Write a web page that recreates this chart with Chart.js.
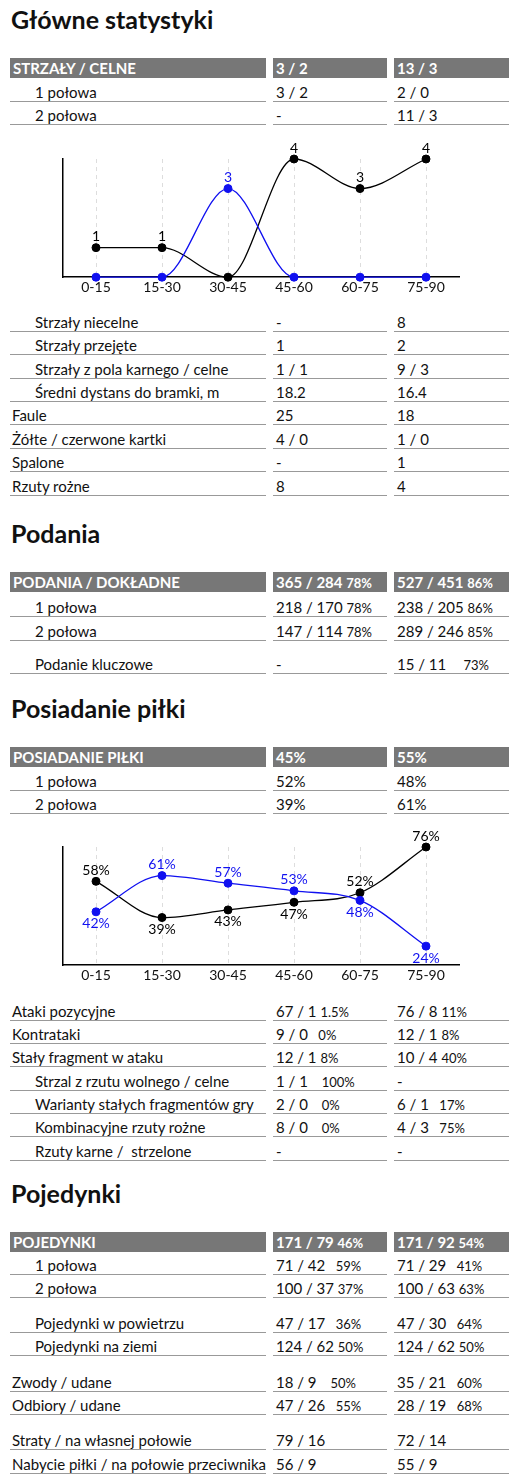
<!DOCTYPE html>
<html><head><meta charset="utf-8">
<script src="https://cdn.jsdelivr.net/npm/chart.js@4"></script>
<style>
body{margin:0;background:#fff;font-family:Lato,"Open Sans",sans-serif;color:#111;}
#page{position:relative;width:526px;height:1482px;}
h2{position:absolute;left:11px;margin:0;font-size:25px;font-weight:bold;}
.cell{position:absolute;height:20px;line-height:20px;font-size:15px;border-bottom:1px solid #999;white-space:nowrap;box-sizing:border-box;overflow:hidden;}
.hd{background:#777;color:#fff;font-weight:bold;border-bottom:none;padding-left:3px;}
.sm{font-size:13px;}
.chartbox{position:absolute;left:0;width:526px;}
</style></head><body>
<div id="page">
<h2 style="top:4px">Główne statystyki</h2>
<h2 style="top:518px">Podania</h2>
<h2 style="top:693px">Posiadanie piłki</h2>
<h2 style="top:1178px">Pojedynki</h2>
<div class="chartbox" style="top:140px;height:158px"><canvas id="shotsChart"></canvas></div>
<div class="chartbox" style="top:830px;height:156px"><canvas id="possChart"></canvas></div>
</div>
<script>
const periods = ["0-15", "15-30", "30-45", "45-60", "60-75", "75-90"];
const shotsHome = [0, 0, 3, 0, 0, 0];
const shotsAway = [1, 1, 0, 4, 3, 4];
const possHome = [42, 61, 57, 53, 48, 24];
const possAway = [58, 39, 43, 47, 52, 76];

// [center y, indent, label, col2, col2 small, col3, col3 small, header]
const rows = [
    [68, 0, "STRZAŁY / CELNE", "3 / 2", "", "13 / 3", "", true],
    [92, 1, "1 połowa", "3 / 2", "", "2 / 0", ""],
    [115, 1, "2 połowa", "-", "", "11 / 3", ""],
    [322, 1, "Strzały niecelne", "-", "", "8", ""],
    [345, 1, "Strzały przejęte", "1", "", "2", ""],
    [369, 1, "Strzały z pola karnego / celne", "1 / 1", "", "9 / 3", ""],
    [392, 1, "Średni dystans do bramki, m", "18.2", "", "16.4", ""],
    [415, 0, "Faule", "25", "", "18", ""],
    [439, 0, "Żółte / czerwone kartki", "4 / 0", "", "1 / 0", ""],
    [462, 0, "Spalone", "-", "", "1", ""],
    [486, 0, "Rzuty rożne", "8", "", "4", ""],
    [582, 0, "PODANIA / DOKŁADNE", "365 / 284", "78%", "527 / 451", "86%", true],
    [607, 1, "1 połowa", "218 / 170", "78%", "238 / 205", "86%"],
    [631, 1, "2 połowa", "147 / 114", "78%", "289 / 246", "85%"],
    [664, 1, "Podanie kluczowe", "-", "", "15 / 11", "&nbsp;&nbsp;&nbsp;&nbsp;73%"],
    [757, 0, "POSIADANIE PIŁKI", "45%", "", "55%", "", true],
    [781, 1, "1 połowa", "52%", "", "48%", ""],
    [804, 1, "2 połowa", "39%", "", "61%", ""],
    [1011, 0, "Ataki pozycyjne", "67 / 1", "1.5%", "76 / 8", "11%"],
    [1034, 0, "Kontrataki", "9 / 0", "&nbsp;&nbsp;0%", "12 / 1", "8%"],
    [1057, 0, "Stały fragment w ataku", "12 / 1", "8%", "10 / 4", "40%"],
    [1081, 1, "Strzal z rzutu wolnego / celne", "1 / 1", "&nbsp;&nbsp;&nbsp;100%", "-", ""],
    [1104, 1, "Warianty stałych fragmentów gry", "2 / 0", "&nbsp;&nbsp;&nbsp;0%", "6 / 1", "&nbsp;&nbsp;17%"],
    [1127, 1, "Kombinacyjne rzuty rożne", "8 / 0", "&nbsp;&nbsp;&nbsp;0%", "4 / 3", "&nbsp;&nbsp;75%"],
    [1151, 1, "Rzuty karne /&nbsp;&nbsp;strzelone", "-", "", "-", ""],
    [1242, 0, "POJEDYNKI", "171 / 79", "46%", "171 / 92", "54%", true],
    [1265, 1, "1 połowa", "71 / 42", "&nbsp;&nbsp;59%", "71 / 29", "&nbsp;&nbsp;41%"],
    [1288, 1, "2 połowa", "100 / 37", "37%", "100 / 63", "63%"],
    [1323, 1, "Pojedynki w powietrzu", "47 / 17", "&nbsp;&nbsp;36%", "47 / 30", "&nbsp;&nbsp;64%"],
    [1346, 1, "Pojedynki na ziemi", "124 / 62", "50%", "124 / 62", "50%"],
    [1382, 0, "Zwody / udane", "18 / 9", "&nbsp;&nbsp;&nbsp;50%", "35 / 21", "&nbsp;&nbsp;60%"],
    [1405, 0, "Odbiory / udane", "47 / 26", "&nbsp;&nbsp;55%", "28 / 19", "&nbsp;&nbsp;68%"],
    [1440, 0, "Straty / na własnej połowie", "79 / 16", "", "72 / 14", ""],
    [1464, 0, "Nabycie piłki / na połowie przeciwnika", "56 / 9", "", "55 / 9", ""]
];

const page = document.getElementById("page");
rows.forEach(r => {
    const [y, indent, label, v2, s2, v3, s3, hd] = r;
    const cols = [
        [10, 256, label, ""],
        [273, 114, v2, s2],
        [394, 115, v3, s3]
    ];
    cols.forEach((c, i) => {
        const d = document.createElement("div");
        d.className = "cell" + (hd ? " hd" : "");
        d.style.top = (y - 10) + "px";
        d.style.left = c[0] + "px";
        d.style.width = c[1] + "px";
        if (!hd) d.style.paddingLeft = (i === 0 ? (indent ? 25 : 2) : 3) + "px";
        d.innerHTML = c[2] + (c[3] ? ' <span class="sm">' + c[3] + "</span>" : "");
        page.appendChild(d);
    });
});

const labelPlugin = {
    id: "pointLabels",
    afterDatasetsDraw(chart, args, opts) {
        const ctx = chart.ctx;
        ctx.save();
        ctx.font = "14px Lato, sans-serif";
        ctx.textAlign = "center";
        chart.data.datasets.forEach((ds, di) => {
            const other = chart.data.datasets[1 - di].data;
            chart.getDatasetMeta(di).data.forEach((pt, i) => {
                const v = ds.data[i];
                if (v === 0) return;
                const above = v >= other[i];
                ctx.fillStyle = ds.borderColor;
                ctx.textBaseline = above ? "bottom" : "top";
                ctx.fillText(v + opts.suffix, pt.x, above ? pt.y - 4 : pt.y + 5);
            });
        });
        ctx.restore();
    }
};

function makeChart(id, home, away, min, max, suffix, padTop) {
    return new Chart(document.getElementById(id), {
        type: "line",
        data: {
            labels: periods,
            datasets: [
                {data: home, borderColor: "#1010f0", backgroundColor: "#1010f0"},
                {data: away, borderColor: "#000", backgroundColor: "#000"}
            ]
        },
        options: {
            responsive: true,
            maintainAspectRatio: false,
            animation: false,
            clip: false,
            layout: {padding: {left: 55, right: 67, top: padTop, bottom: 0}},
            elements: {
                line: {borderWidth: 1.3, cubicInterpolationMode: "monotone"},
                point: {radius: 4, hoverRadius: 4}
            },
            plugins: {legend: {display: false}, tooltip: {enabled: false}, pointLabels: {suffix}},
            scales: {
                x: {
                    offset: true,
                    grid: {offset: false, color: "#ddd", drawTicks: false},
                    border: {color: "#000", width: 1.5, dash: [4, 4]},
                    ticks: {color: "#111", font: {family: "Lato", size: 14}, padding: 2}
                },
                y: {
                    min, max,
                    grid: {display: false},
                    border: {color: "#000", width: 1.5},
                    ticks: {display: false}
                }
            }
        },
        plugins: [labelPlugin]
    });
}

makeChart("shotsChart", shotsHome, shotsAway, 0, 4, "", 19);
makeChart("possChart", possHome, possAway, 14, 76, "%", 17);
</script>
</body></html>
